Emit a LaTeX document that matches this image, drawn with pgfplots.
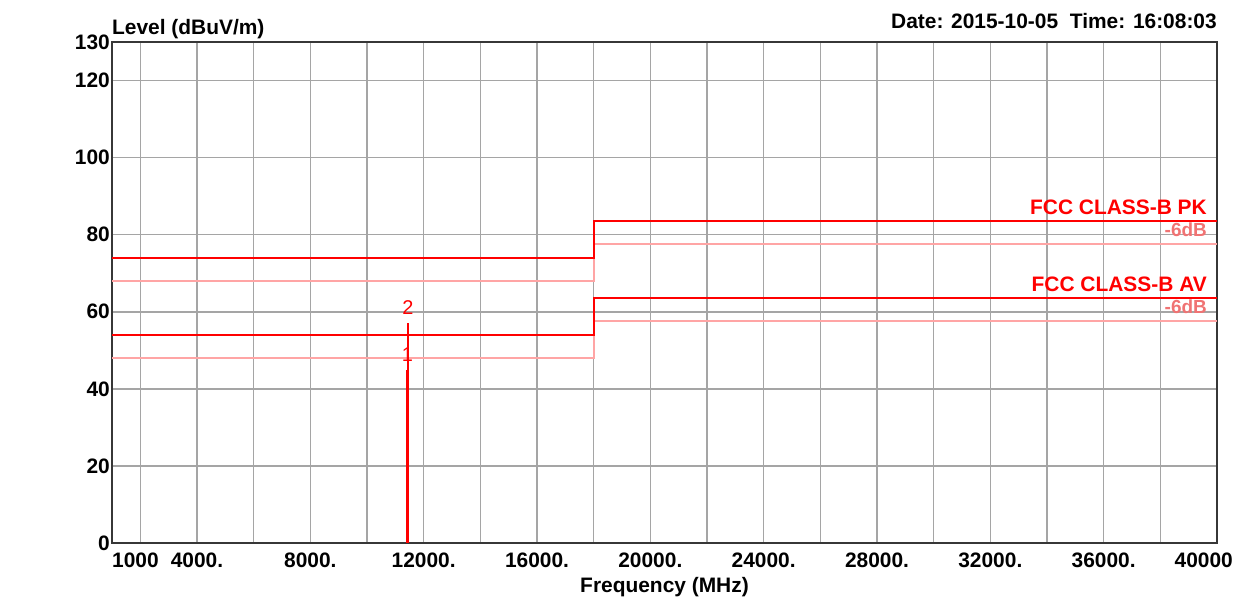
\documentclass[border=0pt]{standalone}
\usepackage{pgfplots}
\pgfplotsset{compat=1.18}
\usepackage{fontspec}
\setmainfont{Liberation Sans}
\definecolor{gridc}{RGB}{165,165,165}
\definecolor{axc}{RGB}{55,55,55}
\definecolor{lim}{RGB}{255,0,0}
\definecolor{limlt}{RGB}{255,165,165}
\definecolor{dbtxt}{RGB}{240,115,115}
\newcommand{\bigb}{\fontsize{21}{21}\selectfont\bfseries}
\begin{document}
\begin{tikzpicture}
\begin{axis}[
  name=ax,
  scale only axis, width=1105bp, height=501bp,
  xmin=1000, xmax=40000, ymin=0, ymax=130,
  scaled x ticks=false, scaled y ticks=false,
  xtick={2000,4000,...,38000},
  xticklabels={,4000.,,8000.,,12000.,,16000.,,20000.,,24000.,,28000.,,32000.,,36000.,},
  ytick={0,20,40,60,80,100,120,130},
  yticklabels={0,20,40,60,80,100,120,130},
  grid=major, major grid style={gridc, line width=1.5bp},
  axis line style={axc, line width=2bp},
  major tick length=0pt,
  tick label style={font=\bigb},
  /pgf/number format/assume math mode=true,
  xticklabel style={anchor=base, yshift=-24bp},
  yticklabel style={anchor=east, inner sep=0pt, xshift=-2bp},
  clip=false,
]
% -6dB lines
\addplot[limlt, line width=2bp] coordinates {(1000,68)(18000,68)(18000,77.5)(40000,77.5)};
\addplot[limlt, line width=2bp] coordinates {(1000,48)(18000,48)(18000,57.5)(40000,57.5)};
% limit lines
\addplot[lim, line width=2bp] coordinates {(1000,74)(18000,74)(18000,83.5)(40000,83.5)};
\addplot[lim, line width=2bp] coordinates {(1000,54)(18000,54)(18000,63.5)(40000,63.5)};
% measured trace
\addplot[lim, line width=2.5bp] coordinates {(11420,0)(11420,44.8)};
\addplot[lim, line width=1.5bp] coordinates {(11440,0)(11440,57.2)};

\node[text=lim, font=\fontsize{20}{20}\selectfont] at (axis cs:11440,61.1) {2};
\node[text=lim, font=\fontsize{20}{20}\selectfont] at (axis cs:11430,48.8) {1};

\node[anchor=base east, text=lim, font=\bigb, inner sep=0pt] at (axis cs:40000,83.5) [xshift=-10bp, yshift=7bp] {FCC CLASS-B PK};
\node[anchor=base east, text=dbtxt, font=\fontsize{19}{19}\selectfont\bfseries, inner sep=0pt] at (axis cs:40000,77.5) [xshift=-10bp, yshift=7.5bp] {-6dB};
\node[anchor=base east, text=lim, font=\bigb, inner sep=0pt] at (axis cs:40000,63.5) [xshift=-10bp, yshift=7bp] {FCC CLASS-B AV};
\node[anchor=base east, text=dbtxt, font=\fontsize{19}{19}\selectfont\bfseries, inner sep=0pt] at (axis cs:40000,57.5) [xshift=-10bp, yshift=8bp] {-6dB};

\node[anchor=base west, font=\bigb, inner sep=0pt] at (rel axis cs:0,1) [yshift=7bp] {Level (dBuV/m)};
\node[anchor=base east, font=\bigb, inner sep=0pt] at (rel axis cs:1,1) [yshift=13bp] {Date: 2015-10-05\ \ Time: 16:08:03};
\node[anchor=base, font=\bigb, inner sep=0pt] at (rel axis cs:0.5,0) [yshift=-49bp] {Frequency (MHz)};
\node[anchor=base west, font=\bigb, inner sep=0pt] at (rel axis cs:0,0) [yshift=-24bp] {1000};
\node[anchor=base east, font=\bigb, inner sep=0pt] at (rel axis cs:1,0) [xshift=16bp, yshift=-24bp] {40000};
\coordinate (O) at (rel axis cs:0,0);
\end{axis}
\pgfresetboundingbox
\path[use as bounding box] (O) ++(-112bp,-62bp) rectangle ++(1247bp,605bp);
\end{tikzpicture}
\end{document}
